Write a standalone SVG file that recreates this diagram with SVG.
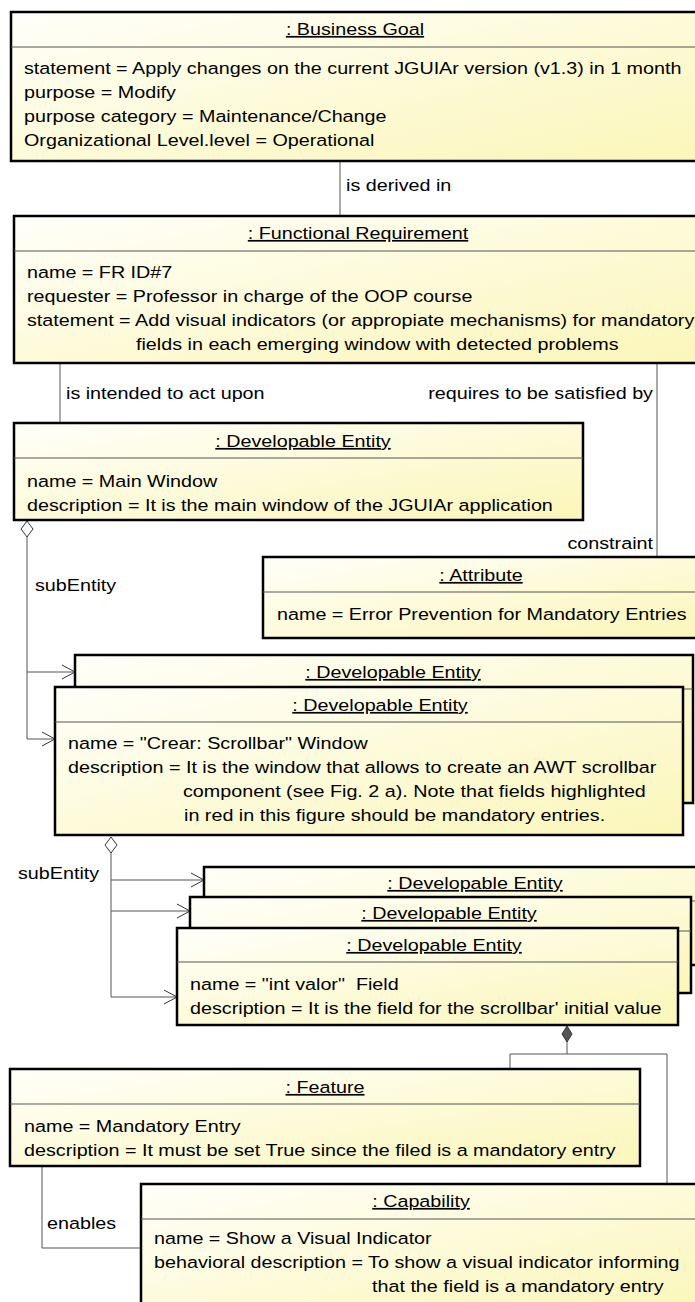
<svg xmlns="http://www.w3.org/2000/svg" width="695" height="1302" viewBox="0 0 695 1302">
<style>
.t{font-family:"Liberation Sans",Arial,sans-serif;font-size:17px;fill:#000}
.h{text-anchor:middle;text-decoration:underline}
.e{text-anchor:end}
.box{fill:url(#g);stroke:#000;stroke-width:2.5}
.sep{stroke:#555;stroke-width:1;fill:none}
.c{stroke:#555;stroke-width:1;fill:none}
.ar{marker-end:url(#a)}
</style>
<defs>
<linearGradient id="g" x1="0" y1="0" x2="1" y2="1">
<stop offset="0" stop-color="#fffffa"/>
<stop offset="1" stop-color="#fbf6b8"/>
</linearGradient>
<marker id="a" markerUnits="userSpaceOnUse" markerWidth="16" markerHeight="16" refX="14" refY="8" orient="auto" overflow="visible">
<path d="M1,1 L14,8 L1,15" fill="none" stroke="#333" stroke-width="1"/>
</marker>
</defs>
<rect width="695" height="1302" fill="#fff"/>
<g id="connectors">
<path class="c" d="M340,161 V216"/>
<text class="t" transform="matrix(1.162 0 0 1 346 191)">is derived in</text>
<path class="c" d="M60,363 V423"/>
<text class="t" transform="matrix(1.162 0 0 1 66 399)">is intended to act upon</text>
<path class="c" d="M657,363 V557"/>
<text class="t e" transform="matrix(1.162 0 0 1 653 399)">requires to be satisfied by</text>
<text class="t e" transform="matrix(1.162 0 0 1 653 549)">constraint</text>
<path class="c" d="M27,537 V739"/>
<path class="c ar" d="M27,672 H75"/>
<path class="c ar" d="M27,739 H55"/>
<path d="M27,521 L33,529 L27,537 L21,529 Z" fill="#fff" stroke="#333"/>
<text class="t" transform="matrix(1.162 0 0 1 35 591)">subEntity</text>
<path class="c" d="M111,853 V997"/>
<path class="c ar" d="M111,880 H204"/>
<path class="c ar" d="M111,911 H190"/>
<path class="c ar" d="M111,997 H177"/>
<path d="M111,837 L117,845 L111,853 L105,845 Z" fill="#fff" stroke="#333"/>
<text class="t" transform="matrix(1.162 0 0 1 18 879)">subEntity</text>
<path class="c" d="M567,1042 V1054 M510,1069 V1054 H667 V1184"/>
<path d="M567,1026 L572,1034 L567,1042 L562,1034 Z" fill="#555" stroke="#333"/>
<path class="c" d="M42,1166 V1248 H141"/>
<text class="t" transform="matrix(1.162 0 0 1 47 1229)">enables</text>
</g>
<g id="business-goal">
<rect class="box" x="11" y="12" width="692" height="149"/>
<path class="sep" d="M11,47 H703"/>
<text class="t h" transform="matrix(1.162 0 0 1 355 35)">: Business Goal</text>
<text class="t" transform="matrix(1.162 0 0 1 24 74)">statement = Apply changes on the current JGUIAr version (v1.3) in 1 month</text>
<text class="t" transform="matrix(1.162 0 0 1 24 98)">purpose = Modify</text>
<text class="t" transform="matrix(1.162 0 0 1 24 122)">purpose category = Maintenance/Change</text>
<text class="t" transform="matrix(1.162 0 0 1 24 146)">Organizational Level.level = Operational</text>
</g>
<g id="functional-requirement">
<rect class="box" x="14" y="216" width="690" height="147"/>
<path class="sep" d="M14,251 H704"/>
<text class="t h" transform="matrix(1.162 0 0 1 358 239)">: Functional Requirement</text>
<text class="t" transform="matrix(1.162 0 0 1 27 278)">name = FR ID#7</text>
<text class="t" transform="matrix(1.162 0 0 1 27 302)">requester = Professor in charge of the OOP course</text>
<text class="t" transform="matrix(1.162 0 0 1 27 326)">statement = Add visual indicators (or appropiate mechanisms) for mandatory</text>
<text class="t" transform="matrix(1.162 0 0 1 136 350)">fields in each emerging window with detected problems</text>
</g>
<g id="de-main-window">
<rect class="box" x="14" y="423" width="569" height="97"/>
<path class="sep" d="M14,458 H583"/>
<text class="t h" transform="matrix(1.162 0 0 1 303 447)">: Developable Entity</text>
<text class="t" transform="matrix(1.162 0 0 1 27 487)">name = Main Window</text>
<text class="t" transform="matrix(1.162 0 0 1 27 511)">description = It is the main window of the JGUIAr application</text>
</g>
<g id="attribute">
<rect class="box" x="263" y="557" width="440" height="81"/>
<path class="sep" d="M263,592 H703"/>
<text class="t h" transform="matrix(1.162 0 0 1 481 581)">: Attribute</text>
<text class="t" transform="matrix(1.162 0 0 1 277 620)">name = Error Prevention for Mandatory Entries</text>
</g>
<g id="de-window-back">
<rect class="box" x="75" y="655" width="618" height="148"/>
<path class="sep" d="M75,689 H693"/>
<text class="t h" transform="matrix(1.162 0 0 1 393 678)">: Developable Entity</text>
</g>
<g id="de-crear-window">
<rect class="box" x="55" y="687" width="628" height="148"/>
<path class="sep" d="M55,722 H683"/>
<text class="t h" transform="matrix(1.162 0 0 1 380 711)">: Developable Entity</text>
<text class="t" transform="matrix(1.162 0 0 1 68 749)">name = "Crear: Scrollbar" Window</text>
<text class="t" transform="matrix(1.162 0 0 1 68 773)">description = It is the window that allows to create an AWT scrollbar</text>
<text class="t" transform="matrix(1.162 0 0 1 183 797)">component (see Fig. 2 a). Note that fields highlighted</text>
<text class="t" transform="matrix(1.162 0 0 1 184 821)">in red in this figure should be mandatory entries.</text>
</g>
<g id="de-field-back2">
<rect class="box" x="204" y="867" width="504" height="98"/>
<path class="sep" d="M204,901 H708"/>
<text class="t h" transform="matrix(1.162 0 0 1 475 889)">: Developable Entity</text>
</g>
<g id="de-field-back1">
<rect class="box" x="190" y="897" width="501" height="96"/>
<path class="sep" d="M190,931 H691"/>
<text class="t h" transform="matrix(1.162 0 0 1 449 919)">: Developable Entity</text>
</g>
<g id="de-int-valor">
<rect class="box" x="177" y="928" width="501" height="97"/>
<path class="sep" d="M177,962 H678"/>
<text class="t h" transform="matrix(1.162 0 0 1 434 951)">: Developable Entity</text>
<text class="t" transform="matrix(1.162 0 0 1 190 990)" xml:space="preserve">name = "int valor"  Field</text>
<text class="t" transform="matrix(1.162 0 0 1 190 1014)">description = It is the field for the scrollbar' initial value</text>
</g>
<g id="feature">
<rect class="box" x="10" y="1069" width="630" height="97"/>
<path class="sep" d="M10,1104 H640"/>
<text class="t h" transform="matrix(1.162 0 0 1 325 1093)">: Feature</text>
<text class="t" transform="matrix(1.162 0 0 1 24 1132)">name = Mandatory Entry</text>
<text class="t" transform="matrix(1.162 0 0 1 24 1156)">description = It must be set True since the filed is a mandatory entry</text>
</g>
<g id="capability">
<rect class="box" x="141" y="1184" width="562" height="130"/>
<path class="sep" d="M141,1219 H703"/>
<text class="t h" transform="matrix(1.162 0 0 1 421 1207)">: Capability</text>
<text class="t" transform="matrix(1.162 0 0 1 154 1244)">name = Show a Visual Indicator</text>
<text class="t" transform="matrix(1.162 0 0 1 154 1268)">behavioral description = To show a visual indicator informing</text>
<text class="t" transform="matrix(1.162 0 0 1 372 1292)">that the field is a mandatory entry</text>
</g>
</svg>
